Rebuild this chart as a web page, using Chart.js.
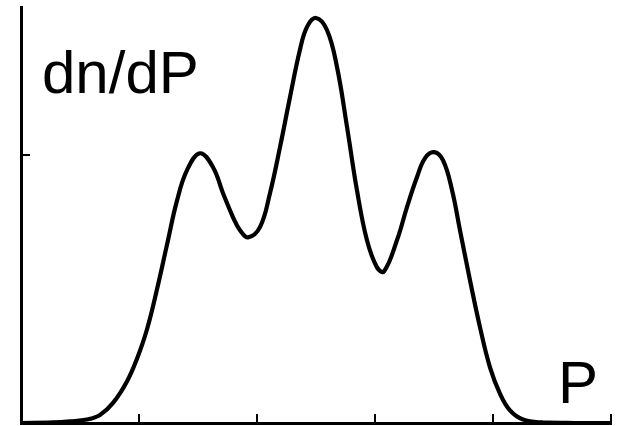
<!DOCTYPE html>
<html>
<head>
<meta charset="utf-8">
<style>
  html, body { margin: 0; padding: 0; background: #fff; }
  #wrap { width: 619px; height: 426px; position: relative; }
</style>
<script src="https://cdn.jsdelivr.net/npm/chart.js@4.4.1/dist/chart.umd.min.js"></script>
</head>
<body>
<div id="wrap"><canvas id="c" width="619" height="426"></canvas></div>
<script>
// Data (P on x, dn/dP on y)
const pValues = [0.000, 0.271, 0.415, 0.559, 0.669, 0.780, 0.898, 0.983, 1.068, 1.153,
  1.237, 1.322, 1.407, 1.517, 1.627, 1.712, 1.797, 1.856, 1.924, 2.025,
  2.110, 2.195, 2.280, 2.364, 2.424, 2.500, 2.593, 2.678, 2.763, 2.847,
  2.932, 3.017, 3.076, 3.186, 3.271, 3.356, 3.424, 3.500, 3.576, 3.653,
  3.720, 3.805, 3.890, 3.975, 4.059, 4.144, 4.254, 4.424, 4.695, 5.000];
const dndpValues = [0.000, 0.002, 0.006, 0.013, 0.030, 0.075, 0.155, 0.240, 0.350, 0.500,
  0.665, 0.830, 0.944, 1.007, 0.955, 0.858, 0.768, 0.720, 0.693, 0.731,
  0.858, 1.030, 1.217, 1.393, 1.479, 1.512, 1.467, 1.329, 1.105, 0.869,
  0.682, 0.581, 0.566, 0.682, 0.806, 0.918, 0.989, 1.011, 0.981, 0.869,
  0.720, 0.533, 0.357, 0.207, 0.110, 0.047, 0.013, 0.002, 0.000, 0.000];
const xTicks = [0, 1, 2, 3, 4, 5];
const yTicks = [0, 1];
const yLabel = "dn/dP";
const xLabel = "P";

const points = pValues.map((p, i) => ({ x: p, y: dndpValues[i] }));

const inwardTicks = {
  id: 'inwardTicks',
  afterDraw(chart) {
    const ctx = chart.ctx;
    const xs = chart.scales.x, ys = chart.scales.y;
    const area = chart.chartArea;
    ctx.save();
    ctx.strokeStyle = '#000';
    ctx.lineWidth = 2;
    xTicks.forEach(v => {
      if (v === 0) return;
      const px = Math.round(xs.getPixelForValue(v));
      ctx.beginPath();
      ctx.moveTo(px, area.bottom);
      ctx.lineTo(px, area.bottom - 9);
      ctx.stroke();
    });
    yTicks.forEach(v => {
      if (v === 0) return;
      const py = Math.round(ys.getPixelForValue(v));
      ctx.beginPath();
      ctx.moveTo(area.left, py);
      ctx.lineTo(area.left + 9, py);
      ctx.stroke();
    });
    ctx.fillStyle = '#000';
    ctx.font = '60px "Liberation Sans", Arial, sans-serif';
    ctx.textBaseline = 'alphabetic';
    ctx.fillText(yLabel, 42, 93);
    ctx.fillText(xLabel, 558, 403);
    ctx.restore();
  }
};

new Chart(document.getElementById('c'), {
  type: 'scatter',
  data: {
    datasets: [{
      data: points,
      showLine: true,
      borderColor: '#000',
      borderWidth: 4.2,
      pointRadius: 0,
      tension: 0.4,
      fill: false
    }]
  },
  options: {
    responsive: false,
    animation: false,
    devicePixelRatio: 1,
    layout: { padding: { left: 21, right: 8, top: 7, bottom: 3 } },
    plugins: { legend: { display: false }, tooltip: { enabled: false } },
    scales: {
      x: {
        type: 'linear', min: 0, max: 5,
        ticks: { display: false, stepSize: 1 },
        grid: { display: false, drawTicks: false },
        border: { display: true, color: '#000', width: 3 }
      },
      y: {
        type: 'linear', min: 0, max: 1.553,
        ticks: { display: false, stepSize: 1 },
        grid: { display: false, drawTicks: false },
        border: { display: true, color: '#000', width: 3 }
      }
    }
  },
  plugins: [inwardTicks]
});
</script>
</body>
</html>
